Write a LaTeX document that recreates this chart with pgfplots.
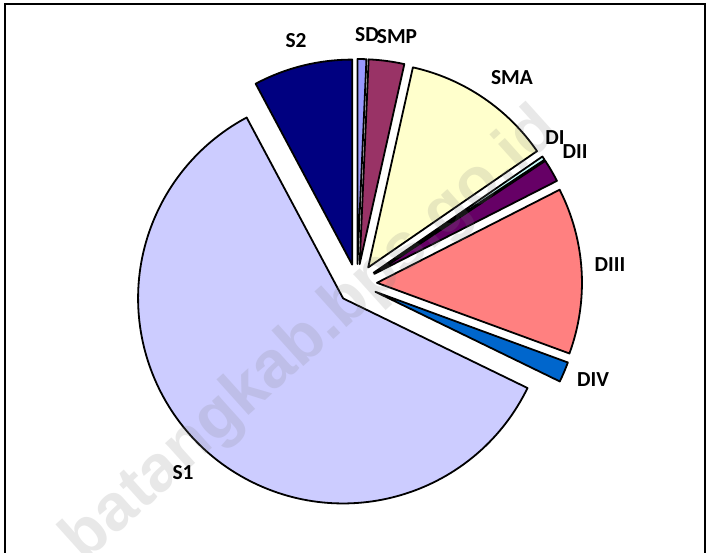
\documentclass[border=0pt]{standalone}
\usepackage{fontspec}
\setmainfont{Carlito}
\newfontfamily\wmfont{Liberation Sans}
\usepackage{pgfplots}
\usepackage{pgfplotstable}
\pgfplotsset{compat=1.18}

% classic office pie palette
\definecolor{cSD}{RGB}{153,153,255}
\definecolor{cSMP}{RGB}{153,51,102}
\definecolor{cSMA}{RGB}{255,255,204}
\definecolor{cDI}{RGB}{204,255,255}
\definecolor{cDII}{RGB}{102,0,102}
\definecolor{cDIII}{RGB}{255,128,128}
\definecolor{cDIV}{RGB}{0,102,204}
\definecolor{cS1}{RGB}{204,204,255}
\definecolor{cS2}{RGB}{0,0,128}

\tikzset{lbl/.style={font=\bfseries\fontsize{10.7}{12}\selectfont,
                     inner sep=0pt,text=black}}

% share (%) of each level, clockwise from 12 o'clock; lx ly = label centre (px from top left)
\pgfplotstableread{
name pct  lx  ly
SD   0.7  367 35
SMP  2.8  397 37
SMA  11.9 512 78
DI   0.3  555 138
DII  1.8  575 152
DIII 13.1 610 265
DIV  1.6  593 380
S1   60.0 183 473
S2   7.8  296 41
}\edudata

\def\cx{357}      % pie centre, px
\def\cy{268}
\def\rad{102.5pt} % 205 px at 0.5pt per px
\def\expl{20}     % explode distance, px

% build the slice commands with all numbers expanded
\pgfplotstablegetrowsof{\edudata}
\pgfmathtruncatemacro\lastrow{\pgfplotsretval-1}
\gdef\cum{0}
\gdef\piecmds{}
\gdef\lblcmds{}
\foreach \i in {0,...,\lastrow}{%
  \pgfplotstablegetelem{\i}{name}\of\edudata \let\nm\pgfplotsretval
  \pgfplotstablegetelem{\i}{pct}\of\edudata \let\p\pgfplotsretval
  \pgfplotstablegetelem{\i}{lx}\of\edudata \let\lx\pgfplotsretval
  \pgfplotstablegetelem{\i}{ly}\of\edudata \let\lyy\pgfplotsretval
  \pgfmathsetmacro\ly{552-\lyy}
  \pgfmathsetmacro\a{3.6*\cum}
  \pgfmathsetmacro\b{3.6*(\cum+\p)}
  \pgfmathsetmacro\m{(\a+\b)/2}
  \pgfmathsetmacro\ax{\cx+\expl*sin(\m)}
  \pgfmathsetmacro\ay{\cy+\expl*cos(\m)}
  \pgfmathsetmacro\sa{90-\a}
  \pgfmathsetmacro\ea{90-\b}
  \pgfmathsetmacro\newcum{\cum+\p}
  \xdef\cum{\newcum}
  \xdef\piecmds{\unexpanded\expandafter{\piecmds}%
    \noexpand\filldraw[fill=c\nm,draw=black,line width=0.9pt,line join=round]
      (axis cs:\ax,\ay) -- ++(\sa:\rad)
      arc[start angle=\sa,end angle=\ea,radius=\rad] -- cycle;}
  \xdef\lblcmds{\unexpanded\expandafter{\lblcmds}%
    \noexpand\node[lbl] at (axis cs:\lx,\ly) {\nm};}
}

\begin{document}
\begin{tikzpicture}
\begin{axis}[at={(0,0)},anchor=south west,
  x=0.5pt,y=0.5pt,
  xmin=0,xmax=710,ymin=0,ymax=552,
  hide axis,clip=false]

  \piecmds

  % watermark
  \node[rotate=42,text=gray,opacity=0.18,
        font=\wmfont\bfseries\fontsize{33}{35}\selectfont]
    at (axis cs:312,216) {batangkab.bps.go.id};

  \lblcmds

  % chart frame (bottom edge lies outside the crop)
  \draw[line width=1pt,black]
    (axis cs:4.5,-20) -- (axis cs:4.5,547.5) -- (axis cs:704.5,547.5)
    -- (axis cs:704.5,-20);
\end{axis}
\pgfresetboundingbox
\path[use as bounding box] (0,0) rectangle (355pt,276pt);
\end{tikzpicture}
\end{document}
